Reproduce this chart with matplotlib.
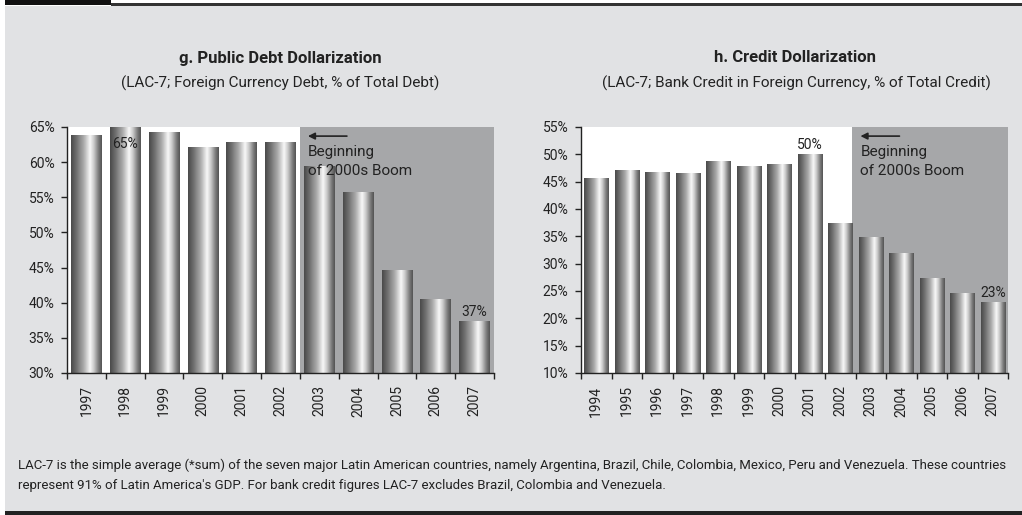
import numpy as np
import matplotlib.pyplot as plt
from matplotlib.colors import LinearSegmentedColormap
from matplotlib.patches import Rectangle
from matplotlib.transforms import offset_copy

# g. public debt dollarization (LAC-7)
debt_years = ['1997', '1998', '1999', '2000', '2001', '2002', '2003', '2004', '2005', '2006', '2007']
debt_values = [63.8, 65.0, 64.3, 62.1, 62.9, 62.8, 59.5, 55.7, 44.6, 40.5, 37.4]
debt_labels = {'1998': '65%', '2007': '37%'}

# h. credit dollarization (LAC-7)
credit_years = ['1994', '1995', '1996', '1997', '1998', '1999', '2000',
                '2001', '2002', '2003', '2004', '2005', '2006', '2007']
credit_values = [45.6, 47.2, 46.8, 46.5, 48.7, 47.9, 48.3, 50.0, 37.5, 34.9, 32.0, 27.4, 24.6, 22.9]
credit_labels = {'2001': '50%', '2007': '23%'}

plt.rcParams['font.family'] = ['Roboto', 'DejaVu Sans']

W, H = 1022, 515
fig = plt.figure(figsize=(W / 100, H / 100), dpi=100)
fig.patch.set_facecolor('white')

# page frame: grey panel, black rules top and bottom
fig.patches.append(Rectangle((5 / W, 4 / H), 1017 / W, 505 / H, transform=fig.transFigure,
                             facecolor='#e1e2e4', edgecolor='none', zorder=-2))
fig.patches.append(Rectangle((5 / W, 1 - 5 / H), 106 / W, 5 / H, transform=fig.transFigure,
                             facecolor='#111111', edgecolor='none', zorder=-1))
fig.patches.append(Rectangle((111 / W, 1 - 6 / H), (W - 111) / W, 3 / H, transform=fig.transFigure,
                             facecolor='#333333', edgecolor='none', zorder=-1))
fig.patches.append(Rectangle((5 / W, 0), 1017 / W, 4 / H, transform=fig.transFigure,
                             facecolor='#222222', edgecolor='none', zorder=-1))

# cylinder shading for the bars
bar_cmap = LinearSegmentedColormap.from_list('cyl', [
    (0.0, '#4a4a4a'), (0.15, '#6a6a6a'), (0.4, '#a8a8a8'),
    (0.62, '#f8f8f8'), (0.75, '#c8c8c8'), (0.9, '#7a7a7a'), (1.0, '#555555')])
grad = np.linspace(0, 1, 64).reshape(1, -1)


def draw_panel(ax, years, values, labels, ylo, yhi, boom_start, inside_labels=()):
    n = len(years)
    x = np.arange(n)
    ax.axvspan(boom_start, n - 0.5, color='#a6a7a9', zorder=0, lw=0)
    bars = ax.bar(x, values, width=0.79, color='none', edgecolor='none', zorder=2)
    for b in bars:
        x0, w = b.get_x(), b.get_width()
        im = ax.imshow(grad, cmap=bar_cmap, extent=(x0, x0 + w, ylo, b.get_height()),
                       aspect='auto', zorder=2, interpolation='bilinear')
        im.set_clip_path(b)
    for yr, txt in labels.items():
        i = years.index(yr)
        if yr in inside_labels:
            ax.annotate(txt, (i, values[i]), xytext=(0, -7), textcoords='offset points',
                        ha='center', va='top', fontsize=10, color='#222222', zorder=3)
        else:
            ax.annotate(txt, (i, values[i]), xytext=(0, 1.5), textcoords='offset points',
                        ha='center', va='bottom', fontsize=10, color='#222222', zorder=3)

    ax.set_xlim(-0.5, n - 0.5)
    ax.set_ylim(ylo, yhi)
    ax.set_yticks(np.arange(ylo, yhi + 1, 5))
    ax.set_yticklabels([f'{v}%' for v in range(ylo, yhi + 1, 5)])
    ax.set_xticks(x)
    ax.set_xticklabels(years, rotation=90)
    ax.set_xticks(np.arange(-0.5, n, 1), minor=True)
    ax.tick_params(axis='x', which='major', length=0, pad=9, labelsize=10, colors='#222222')
    ax.tick_params(axis='x', which='minor', length=4, width=1, color='#222222', direction='out')
    ax.tick_params(axis='y', length=4, width=1, pad=5, labelsize=10, colors='#222222')
    for s in ['top', 'right']:
        ax.spines[s].set_visible(False)
    for s in ['left', 'bottom']:
        ax.spines[s].set_color('#222222')
        ax.spines[s].set_linewidth(1)
        ax.spines[s].set_zorder(4)
    ax.set_facecolor('white')
    ax.set_zorder(2)

    # arrow + note at the start of the boom
    base = ax.get_xaxis_transform()
    tip = offset_copy(base, fig=fig, x=8, y=0, units='dots')
    tail = offset_copy(base, fig=fig, x=47, y=0, units='dots')
    ax.annotate('', xy=(boom_start, 0.963), xycoords=tip,
                xytext=(boom_start, 0.963), textcoords=tail,
                arrowprops=dict(arrowstyle='-|>', color='#222222', lw=1.2,
                                mutation_scale=10, shrinkA=0, shrinkB=0), zorder=3)
    ax.text(boom_start, 0.925, 'Beginning\nof 2000s Boom', transform=tip,
            ha='left', va='top', fontsize=11, color='#222222', linespacing=1.45, zorder=3)


ax1 = fig.add_axes([67 / W, 1 - 373 / H, (494 - 67) / W, (373 - 127) / H])
draw_panel(ax1, debt_years, debt_values, debt_labels, 30, 65, 5.5, inside_labels=('1998',))

ax2 = fig.add_axes([581 / W, 1 - 373 / H, (1008 - 581) / W, (373 - 127) / H])
draw_panel(ax2, credit_years, credit_values, credit_labels, 10, 55, 8.4)

fig.text(280 / W, 1 - 58 / H, 'g. Public Debt Dollarization', ha='center', va='center',
         fontsize=12, fontweight='bold', color='#222222')
fig.text(280 / W, 1 - 83 / H, '(LAC-7; Foreign Currency Debt, % of Total Debt)', ha='center',
         va='center', fontsize=11, color='#222222')
fig.text(795 / W, 1 - 58 / H, 'h. Credit Dollarization', ha='center', va='center',
         fontsize=12, fontweight='bold', color='#222222')
fig.text(796 / W, 1 - 83 / H, '(LAC-7; Bank Credit in Foreign Currency, % of Total Credit)',
         ha='center', va='center', fontsize=11, color='#222222')

fig.text(18 / W, 1 - 465 / H,
         'LAC-7 is the simple average (*sum) of the seven major Latin American countries, namely '
         'Argentina, Brazil, Chile, Colombia, Mexico, Peru and Venezuela. These countries',
         ha='left', va='center', fontsize=9.5, color='#222222')
fig.text(18 / W, 1 - 486 / H,
         "represent 91% of Latin America's GDP. For bank credit figures LAC-7 excludes Brazil, "
         'Colombia and Venezuela.',
         ha='left', va='center', fontsize=9.5, color='#222222')

fig.savefig('out.png', dpi=100)
